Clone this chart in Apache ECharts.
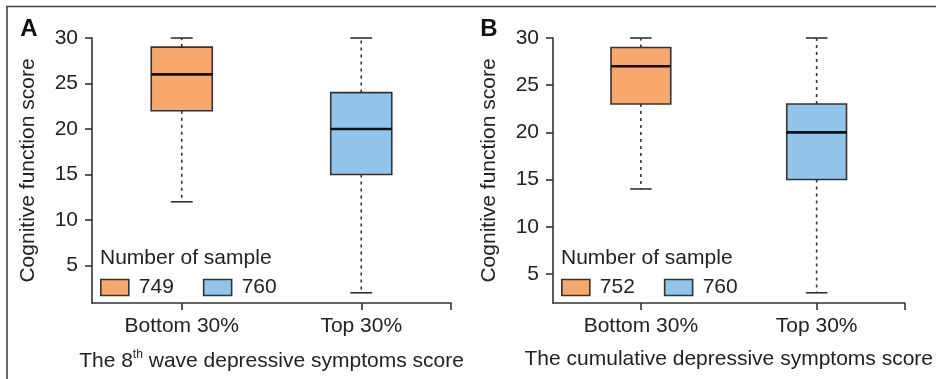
<!DOCTYPE html>
<html>
<head>
<meta charset="utf-8">
<script src="https://cdn.jsdelivr.net/npm/echarts@6/dist/echarts.min.js"></script>
<style>html,body{margin:0;padding:0;background:#fff;}#c{width:936px;height:379px;}</style>
</head>
<body>
<div id="c"></div>
<script>
// ---- data ----
const categories = ['Bottom 30%', 'Top 30%'];
// [min, Q1, median, Q3, max]
const boxesA = [[12, 22, 26, 29, 30], [2, 15, 20, 24, 30]];
const boxesB = [[14, 23, 27, 29, 30], [3, 15, 20, 23, 30]];
const samplesA = [749, 760];
const samplesB = [752, 760];
const yTicks = [5, 10, 15, 20, 25, 30];
const xTitleA = ['The 8', 'th', ' wave depressive symptoms score'];
const xTitleB = 'The cumulative depressive symptoms score';
const yTitle = 'Cognitive function score';
const legendTitle = 'Number of sample';

// ---- style ----
const FONT = 'Liberation Sans, Arial, Helvetica, sans-serif';
const TXT = '#222';
const LINE = '#333';
const colors = ['#F7A86F', '#93C5EA'];

function renderBox(params, api) {
  const x = api.value(0);
  const vmin = api.value(1), q1 = api.value(2), med = api.value(3), q3 = api.value(4), vmax = api.value(5);
  const band = api.size([1, 0])[0];
  const hw = band * 0.17;
  const cw = band * 0.061;
  const cx = api.coord([x, med])[0];
  const yMin = api.coord([x, vmin])[1];
  const yQ1 = api.coord([x, q1])[1];
  const yMed = api.coord([x, med])[1];
  const yQ3 = api.coord([x, q3])[1];
  const yMax = api.coord([x, vmax])[1];
  const fill = api.visual('color');
  return {
    type: 'group',
    children: [
      { type: 'line', shape: { x1: cx, y1: yQ3, x2: cx, y2: yMax }, style: { stroke: LINE, lineWidth: 1.6, lineDash: [3, 4] } },
      { type: 'line', shape: { x1: cx, y1: yQ1, x2: cx, y2: yMin }, style: { stroke: LINE, lineWidth: 1.6, lineDash: [3, 4] } },
      { type: 'line', shape: { x1: cx - cw, y1: yMax, x2: cx + cw, y2: yMax }, style: { stroke: LINE, lineWidth: 1.6 } },
      { type: 'line', shape: { x1: cx - cw, y1: yMin, x2: cx + cw, y2: yMin }, style: { stroke: LINE, lineWidth: 1.6 } },
      { type: 'rect', shape: { x: cx - hw, y: yQ3, width: hw * 2, height: yQ1 - yQ3 }, style: { fill: fill, stroke: LINE, lineWidth: 1.6 } },
      { type: 'line', shape: { x1: cx - hw, y1: yMed, x2: cx + hw, y2: yMed }, style: { stroke: '#111', lineWidth: 2.6 } }
    ]
  };
}

function makeSeries(boxes, samples, gridIdx) {
  return boxes.map((b, i) => ({
    type: 'custom',
    name: String(samples[i]),
    xAxisIndex: gridIdx,
    yAxisIndex: gridIdx,
    itemStyle: { color: colors[i] },
    renderItem: renderBox,
    encode: { x: 0, y: [1, 2, 3, 4, 5] },
    data: [[i + 1].concat(b)],
    z: 2
  }));
}

function makeX(gridIdx, name, rich) {
  return {
    type: 'value', gridIndex: gridIdx, min: 0.5, max: 2.5,
    axisLine: { show: true, lineStyle: { color: LINE, width: 1.6 } },
    axisTick: { show: true, length: 7, customValues: [1, 2, 2.5], lineStyle: { color: LINE, width: 1.6 } },
    axisLabel: { customValues: [1, 2], formatter: v => categories[Math.round(v) - 1] || '', margin: 13, fontSize: 21, color: TXT, fontFamily: FONT },
    splitLine: { show: false },
    name: name, nameLocation: 'middle', nameGap: 46,
    nameTextStyle: rich ? { rich: rich, fontSize: 21, fontFamily: FONT, color: TXT } : { fontSize: 21, fontFamily: FONT, color: TXT }
  };
}

function makeY(gridIdx, min) {
  return {
    type: 'value', gridIndex: gridIdx, min: min, max: 30,
    axisLine: { show: true, lineStyle: { color: LINE, width: 1.6 } },
    axisTick: { show: true, length: 7, customValues: yTicks, lineStyle: { color: LINE, width: 1.6 } },
    axisLabel: { customValues: yTicks, margin: 14, fontSize: 21, color: TXT, fontFamily: FONT },
    splitLine: { show: false },
    name: yTitle, nameLocation: 'middle', nameGap: 53, nameRotate: 90,
    nameTextStyle: { fontSize: 21, fontFamily: FONT, color: TXT }
  };
}

function makeLegend(left, samples) {
  return {
    left: left, top: 277, padding: 0, itemGap: 29, itemWidth: 28, itemHeight: 16,
    icon: 'rect', selectedMode: false,
    itemStyle: { borderColor: LINE, borderWidth: 1.6 },
    textStyle: { fontSize: 21, color: TXT, fontFamily: FONT, padding: [0, 0, 0, 5] },
    data: samples.map((s, i) => ({ name: String(s), itemStyle: { color: colors[i], borderColor: LINE, borderWidth: 1.6 } }))
  };
}

const richA = {
  a: { fontSize: 21, fontFamily: FONT, color: TXT, lineHeight: 24 },
  s: { fontSize: 12, fontFamily: FONT, color: TXT, lineHeight: 12, verticalAlign: 'top' }
};
const nameA = '{a|' + xTitleA[0] + '}{s|' + xTitleA[1] + '}{a|' + xTitleA[2] + '}';

const chart = echarts.init(document.getElementById('c'), null, { renderer: 'canvas' });
chart.setOption({
  animation: false,
  backgroundColor: '#fff',
  grid: [
    { left: 92, top: 38, width: 359, height: 265 },
    { left: 553, top: 38, width: 359, height: 265 }
  ],
  xAxis: [makeX(0, nameA, richA), makeX(1, xTitleB, null)],
  yAxis: [makeY(0, 0.88), makeY(1, 1.92)],
  legend: [makeLegend(100, samplesA), makeLegend(561, samplesB)],
  series: makeSeries(boxesA, samplesA, 0).concat(makeSeries(boxesB, samplesB, 1)),
  graphic: [
    { type: 'line', shape: { x1: 6, y1: 6.5, x2: 936, y2: 6.5 }, style: { stroke: '#444', lineWidth: 1.6 }, silent: true },
    { type: 'line', shape: { x1: 7, y1: 6, x2: 7, y2: 379 }, style: { stroke: '#444', lineWidth: 1.6 }, silent: true },
    { type: 'text', x: 29, y: 29, style: { text: 'A', font: 'bold 24px ' + FONT, fill: '#111', textAlign: 'center', textVerticalAlign: 'middle' } },
    { type: 'text', x: 489, y: 29, style: { text: 'B', font: 'bold 24px ' + FONT, fill: '#111', textAlign: 'center', textVerticalAlign: 'middle' } },
    { type: 'text', x: 100, y: 258, style: { text: legendTitle, font: '21px ' + FONT, fill: TXT, textAlign: 'left', textVerticalAlign: 'middle' } },
    { type: 'text', x: 561, y: 258, style: { text: legendTitle, font: '21px ' + FONT, fill: TXT, textAlign: 'left', textVerticalAlign: 'middle' } }
  ]
});
</script>
</body>
</html>
